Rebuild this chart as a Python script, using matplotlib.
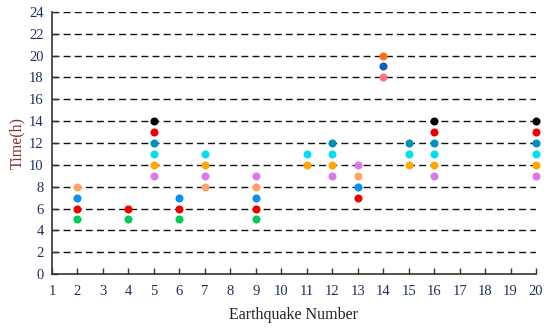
import matplotlib.pyplot as plt

plt.rcParams["font.family"] = ["Liberation Serif", "DejaVu Serif"]

EARTHQUAKES = list(range(1, 21))
HOURS = list(range(0, 25, 2))

# one series per marker colour: (x = earthquake number, y = time in hours)
green_x, green_y = [2, 4, 6, 9], [5, 5, 5, 5]
red_x, red_y = [2, 4, 5, 6, 9, 13, 16, 20], [6, 6, 13, 6, 6, 7, 13, 13]
blue_x, blue_y = [2, 6, 9, 13], [7, 7, 7, 8]
peach_x, peach_y = [2, 7, 9, 13], [8, 8, 8, 9]
violet_x, violet_y = [5, 7, 9, 12, 13, 16, 20], [9, 9, 9, 9, 10, 9, 9]
orange_x, orange_y = [5, 7, 11, 12, 15, 16, 20], [10, 10, 10, 10, 10, 10, 10]
cyan_x, cyan_y = [5, 7, 11, 12, 15, 16, 20], [11, 11, 11, 11, 11, 11, 11]
teal_x, teal_y = [5, 12, 15, 16, 20], [12, 12, 12, 12, 12]
black_x, black_y = [5, 16, 20], [14, 14, 14]
pink_x, pink_y = [14], [18]
navy_x, navy_y = [14], [19]
dkorange_x, dkorange_y = [14], [20]

series = [
    (green_x, green_y, "#00cc55"),
    (red_x, red_y, "#ee0000"),
    (blue_x, blue_y, "#0a8ff5"),
    (peach_x, peach_y, "#ffa366"),
    (violet_x, violet_y, "#dd77ee"),
    (orange_x, orange_y, "#ffa800"),
    (cyan_x, cyan_y, "#00e0f5"),
    (teal_x, teal_y, "#0090b8"),
    (black_x, black_y, "#000000"),
    (pink_x, pink_y, "#ff7080"),
    (navy_x, navy_y, "#0a5fbf"),
    (dkorange_x, dkorange_y, "#ff7010"),
]

fig = plt.figure(figsize=(5.5, 3.29), dpi=100)
ax = fig.add_axes([0.0945, 0.167, 0.88, 0.797])

for h in HOURS[1:]:
    ax.axhline(h, color="#111111", linestyle=(0, (5, 3)), linewidth=1.0, zorder=1)

for xs, ys, c in series:
    ax.plot(xs, ys, "o", color=c, markersize=5.8, markeredgewidth=0,
            zorder=3, clip_on=False)

ax.set_xlim(1, 20)
ax.set_ylim(0, 24)
ax.set_xticks(EARTHQUAKES)
ax.set_yticks(HOURS)
ax.tick_params(direction="in", length=4, width=1, labelsize=10.5, colors="#333333")
for lab in ax.get_xticklabels() + ax.get_yticklabels():
    lab.set_color("#1f2f5a")
ax.tick_params(axis="x", pad=8)
ax.tick_params(axis="y", pad=6)

for s in ["top", "right"]:
    ax.spines[s].set_visible(False)
for s in ["left", "bottom"]:
    ax.spines[s].set_linewidth(1.2)
    ax.spines[s].set_color("#333333")

ax.set_xlabel("Earthquake Number", fontsize=11.5, color="#222222", labelpad=6)
ax.set_ylabel("Time(h)", fontsize=11.5, color="#8b3030", labelpad=3)

fig.savefig("out.png", dpi=100)
